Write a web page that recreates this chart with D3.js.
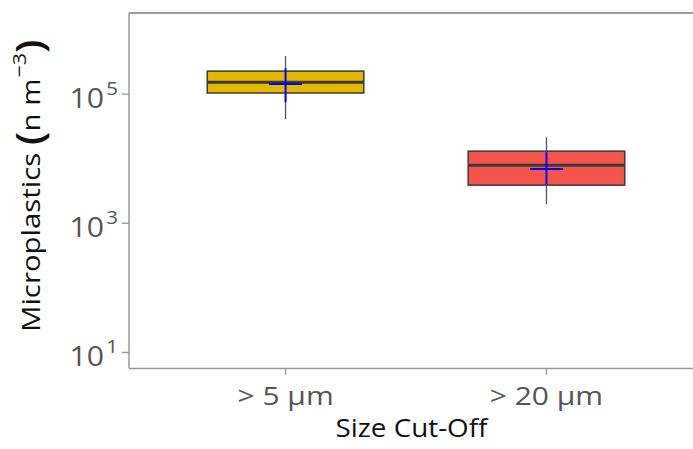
<!DOCTYPE html>
<html>
<head>
<meta charset="utf-8">
<script src="https://cdn.jsdelivr.net/npm/d3@7"></script>
<style>
  body { margin: 0; background: #fff; }
  svg { display: block; font-family: "Open Sans", sans-serif; }
</style>
</head>
<body>
<div id="wrapper"></div>
<script>
// data
const categories = ["> 5 µm", "> 20 µm"]
const fillColors = ["#E5B800", "#F4544A"]
const q1Values = [1.04e5, 3.9e3]
const medianValues = [1.53e5, 7.9e3]
const q3Values = [2.27e5, 1.31e4]
const whiskerLow = [4.1e4, 1.97e3]
const whiskerHigh = [3.9e5, 2.15e4]
const meanValues = [1.43e5, 6.9e3]
const meanLow = [7.5e4, 4.0e3]
const meanHigh = [2.5e5, 1.26e4]
const yTickExponents = [1, 3, 5]

const dataset = categories.map((c, i) => ({
  category: c,
  fill: fillColors[i],
  q1: q1Values[i],
  median: medianValues[i],
  q3: q3Values[i],
  lo: whiskerLow[i],
  hi: whiskerHigh[i],
  mean: meanValues[i],
  meanLo: meanLow[i],
  meanHi: meanHigh[i],
}))

const width = 693
const height = 449
// panel runs past the right edge of the picture (it is cropped there)
const panel = { left: 129, right: 703, top: 13, bottom: 368.5 }

const svg = d3.select("#wrapper").append("svg")
    .attr("width", width)
    .attr("height", height)

const xScale = d3.scalePoint()
    .domain(categories)
    .range([panel.left, panel.right])
    .padding(0.6)
const step = xScale.step()

const yScale = d3.scaleLog()
    .domain([Math.pow(10, 0.752), Math.pow(10, 6.256)])
    .range([panel.bottom, panel.top])

const boxWidth = step * 0.6
const meanWidth = 33

// top edge of the panel
svg.append("line")
    .attr("x1", panel.left).attr("x2", width)
    .attr("y1", panel.top).attr("y2", panel.top)
    .attr("stroke", "#3a3a3a").attr("stroke-width", 1.2)

// whiskers
svg.selectAll(".whisker")
    .data(dataset)
  .enter().append("line")
    .attr("x1", d => xScale(d.category))
    .attr("x2", d => xScale(d.category))
    .attr("y1", d => yScale(d.lo))
    .attr("y2", d => yScale(d.hi))
    .attr("stroke", "#555")
    .attr("stroke-width", 1.3)

// boxes
svg.selectAll(".box")
    .data(dataset)
  .enter().append("rect")
    .attr("x", d => xScale(d.category) - boxWidth / 2)
    .attr("width", boxWidth)
    .attr("y", d => yScale(d.q3))
    .attr("height", d => yScale(d.q1) - yScale(d.q3))
    .attr("fill", d => d.fill)
    .attr("stroke", "#3a3a3a")
    .attr("stroke-width", 1.5)

// medians
svg.selectAll(".median")
    .data(dataset)
  .enter().append("line")
    .attr("x1", d => xScale(d.category) - boxWidth / 2)
    .attr("x2", d => xScale(d.category) + boxWidth / 2)
    .attr("y1", d => yScale(d.median))
    .attr("y2", d => yScale(d.median))
    .attr("stroke", "#3a3a3a")
    .attr("stroke-width", 3)

// mean markers (blue cross)
svg.selectAll(".mean-v")
    .data(dataset)
  .enter().append("line")
    .attr("x1", d => xScale(d.category))
    .attr("x2", d => xScale(d.category))
    .attr("y1", d => yScale(d.meanLo))
    .attr("y2", d => yScale(d.meanHi))
    .attr("stroke", "#0000ff")
    .attr("stroke-width", 2)

svg.selectAll(".mean-h")
    .data(dataset)
  .enter().append("line")
    .attr("x1", d => xScale(d.category) - meanWidth / 2)
    .attr("x2", d => xScale(d.category) + meanWidth / 2)
    .attr("y1", d => yScale(d.mean))
    .attr("y2", d => yScale(d.mean))
    .attr("stroke", "#0000ff")
    .attr("stroke-width", 2)

// y axis
svg.append("line")
    .attr("x1", panel.left).attr("x2", panel.left)
    .attr("y1", panel.top).attr("y2", panel.bottom)
    .attr("stroke", "#999").attr("stroke-width", 1.5)

const yTicks = svg.selectAll(".y-tick")
    .data(yTickExponents)
  .enter().append("g")
    .attr("transform", d => `translate(0, ${yScale(Math.pow(10, d))})`)

yTicks.append("line")
    .attr("x1", panel.left - 7).attr("x2", panel.left)
    .attr("stroke", "#999").attr("stroke-width", 1.3)

const yLabel = yTicks.append("text")
    .attr("transform", `translate(${panel.left - 11}, 14) scale(1.08, 1)`)
    .attr("text-anchor", "end")
    .attr("fill", "#555")
    .style("font-size", "28px")
yLabel.append("tspan").text("10")
yLabel.append("tspan")
    .attr("dx", 2)
    .attr("dy", -13)
    .style("font-size", "19px")
    .text(d => d)

// x axis
svg.append("line")
    .attr("x1", panel.left).attr("x2", width)
    .attr("y1", panel.bottom).attr("y2", panel.bottom)
    .attr("stroke", "#999").attr("stroke-width", 1.5)

svg.selectAll(".x-tick")
    .data(categories)
  .enter().append("line")
    .attr("x1", d => xScale(d)).attr("x2", d => xScale(d))
    .attr("y1", panel.bottom).attr("y2", panel.bottom + 6)
    .attr("stroke", "#999").attr("stroke-width", 1.3)

svg.selectAll(".x-label")
    .data(categories)
  .enter().append("text")
    .attr("transform", d => `translate(${xScale(d)}, 405) scale(1.2, 1)`)
    .attr("text-anchor", "middle")
    .attr("fill", "#555")
    .style("font-size", "25px")
    .text(d => d)

// axis titles
svg.append("text")
    .attr("transform", `translate(${(panel.left + width) / 2 + 0.5}, 437) scale(1.07, 1)`)
    .attr("text-anchor", "middle")
    .attr("fill", "#111")
    .style("font-size", "26px")
    .text("Size Cut-Off")

const yTitle = svg.append("text")
    .attr("transform", `translate(40, 332) rotate(-90) scale(1.13, 1)`)
    .attr("text-anchor", "start")
    .attr("fill", "#111")
    .style("font-size", "26px")
yTitle.append("tspan").text("Microplastics ")
yTitle.append("tspan").attr("dy", 3).style("font-size", "38px").style("font-weight", 600).text("(")
yTitle.append("tspan").attr("dy", -3).text("n m")
yTitle.append("tspan").attr("dx", 1).attr("dy", -14).style("font-size", "19px").text("−3")
yTitle.append("tspan").attr("dy", 17).style("font-size", "38px").style("font-weight", 600).text(")")
</script>
</body>
</html>
